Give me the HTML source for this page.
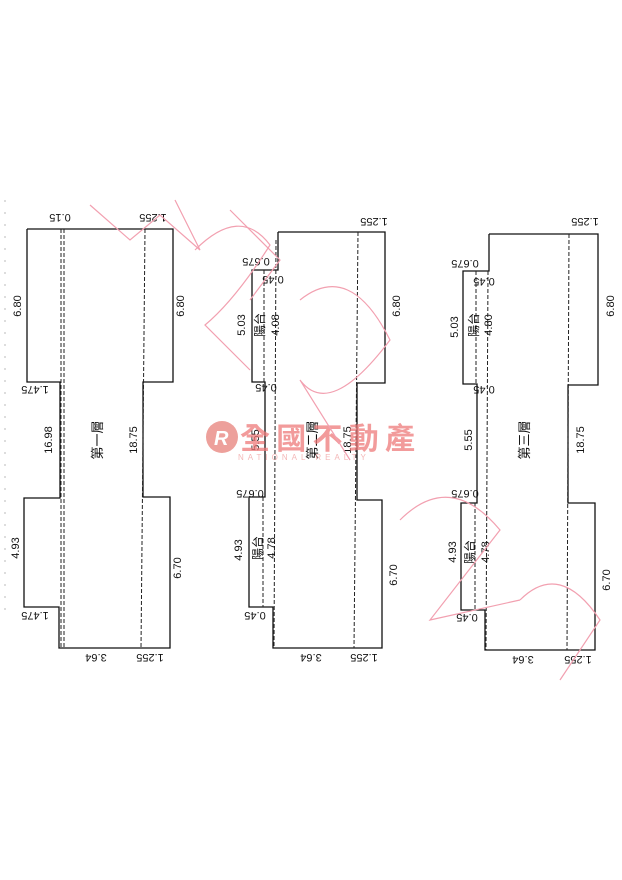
<!DOCTYPE html>
<html><head><meta charset="utf-8"><style>
html,body{margin:0;padding:0;background:#fff;width:622px;height:880px;overflow:hidden}
svg{display:block}
text{font-family:"Liberation Sans","Noto Sans CJK TC",sans-serif;fill:#111}
</style></head><body>
<svg width="622" height="880" viewBox="0 0 622 880" xmlns="http://www.w3.org/2000/svg">
<g fill="none" stroke="#111" stroke-width="1.3">
<!-- floor 1 -->
<polyline points="27,229 173,229 173,382 143,382 143,497 170,497 170,648 59,648 59,607 24,607 24,498 60,498 60,382 27,382 27,229"/>
<!-- floor 2 -->
<polyline points="278,232 385,232 385,383 357,383 357,500 382,500 382,648 273,648 273,607 249,607 249,497 265,497 265,382 252,382 252,270 278,270 278,232"/>
<!-- floor 3 -->
<polyline points="489,234 598,234 598,385 568,385 568,503 595,503 595,650 485,650 485,610 461,610 461,503 477,503 477,384 463,384 463,271 489,271 489,234"/>
</g>
<g fill="none" stroke="#222" stroke-width="1" stroke-dasharray="4,2">
<line x1="61" y1="229" x2="61" y2="648"/>
<line x1="64" y1="229" x2="64" y2="648"/>
<line x1="145" y1="229" x2="141" y2="648"/>
<line x1="358" y1="232" x2="354" y2="648"/>
<line x1="264" y1="270" x2="264" y2="383"/>
<line x1="276" y1="240" x2="274" y2="648"/>
<line x1="263" y1="497" x2="263" y2="607"/>
<line x1="569" y1="234" x2="567" y2="650"/>
<line x1="476" y1="271" x2="476" y2="384"/>
<line x1="488" y1="271" x2="486" y2="650"/>
<line x1="475" y1="503" x2="475" y2="610"/>
</g>
<line x1="5" y1="200" x2="5" y2="620" stroke="#bbb" stroke-width="1" stroke-dasharray="2,10"/>
<g font-size="11">
<!-- rotated -90 -->
<g text-anchor="middle">
<text transform="translate(21,306) rotate(-90)">6.80</text>
<text transform="translate(184,306) rotate(-90)">6.80</text>
<text transform="translate(52,440) rotate(-90)">16.98</text>
<text transform="translate(137,440) rotate(-90)">18.75</text>
<text transform="translate(19,548) rotate(-90)">4.93</text>
<text transform="translate(181,568) rotate(-90)">6.70</text>
<text transform="translate(102,440) rotate(-90)" font-size="13">第一層</text>

<text transform="translate(245,325) rotate(-90)">5.03</text>
<text transform="translate(279,325) rotate(-90)">4.08</text>
<text transform="translate(264,325) rotate(-90)" font-size="12">陽台</text>
<text transform="translate(400,306) rotate(-90)">6.80</text>
<text transform="translate(259,440) rotate(-90)">5.55</text>
<text transform="translate(351,440) rotate(-90)">18.75</text>
<text transform="translate(317,440) rotate(-90)" font-size="13">第二層</text>
<text transform="translate(242,550) rotate(-90)">4.93</text>
<text transform="translate(275,548) rotate(-90)">4.78</text>
<text transform="translate(262,548) rotate(-90)" font-size="12">陽台</text>
<text transform="translate(397,575) rotate(-90)">6.70</text>

<text transform="translate(458,327) rotate(-90)">5.03</text>
<text transform="translate(492,325) rotate(-90)">4.80</text>
<text transform="translate(478,325) rotate(-90)" font-size="12">陽台</text>
<text transform="translate(614,306) rotate(-90)">6.80</text>
<text transform="translate(472,440) rotate(-90)">5.55</text>
<text transform="translate(584,440) rotate(-90)">18.75</text>
<text transform="translate(529,440) rotate(-90)" font-size="13">第三層</text>
<text transform="translate(456,552) rotate(-90)">4.93</text>
<text transform="translate(489,552) rotate(-90)">4.78</text>
<text transform="translate(474,552) rotate(-90)" font-size="12">陽台</text>
<text transform="translate(610,580) rotate(-90)">6.70</text>

<!-- upside down -->
<text transform="translate(60,214) rotate(180)">0.15</text>
<text transform="translate(153,214) rotate(180)">1.255</text>
<text transform="translate(35,386) rotate(180)">1.475</text>
<text transform="translate(35,612) rotate(180)">1.475</text>
<text transform="translate(96,654) rotate(180)">3.64</text>
<text transform="translate(150,654) rotate(180)">1.255</text>

<text transform="translate(374,218) rotate(180)">1.255</text>
<text transform="translate(256,258) rotate(180)">0.675</text>
<text transform="translate(273,276) rotate(180)">0.45</text>
<text transform="translate(266,384) rotate(180)">0.45</text>
<text transform="translate(250,490) rotate(180)">0.675</text>
<text transform="translate(255,612) rotate(180)">0.45</text>
<text transform="translate(311,654) rotate(180)">3.64</text>
<text transform="translate(364,654) rotate(180)">1.255</text>

<text transform="translate(585,218) rotate(180)">1.255</text>
<text transform="translate(465,260) rotate(180)">0.675</text>
<text transform="translate(484,278) rotate(180)">0.45</text>
<text transform="translate(484,386) rotate(180)">0.45</text>
<text transform="translate(465,490) rotate(180)">0.675</text>
<text transform="translate(467,614) rotate(180)">0.45</text>
<text transform="translate(523,656) rotate(180)">3.64</text>
<text transform="translate(578,656) rotate(180)">1.255</text>
</g>
</g>
<!-- watermark -->
<g opacity="0.75">
<circle cx="222" cy="437" r="16" fill="#e8817a"/>
<text x="214" y="445" font-size="20" font-style="italic" font-weight="bold" style="fill:#fff">R</text>
<text x="240" y="449" font-size="30" font-weight="bold" style="fill:#ee7a7a" textLength="175">全國不動產</text>
<text x="238" y="460" font-size="8" letter-spacing="4" style="fill:#f0a0a0">NATIONAL REALTY</text>
</g>
<g fill="none" stroke="#f2a0b0" stroke-width="1.2">
<path d="M90,205 L130,240 L160,215 L200,250 L175,200"/>
<path d="M195,250 Q240,205 270,245 Q235,300 205,325 L250,370"/>
<path d="M300,300 Q350,260 390,340 Q330,420 300,380 L350,460"/>
<path d="M400,520 Q450,470 500,530 L430,620 L520,600"/>
<path d="M520,600 Q560,560 600,620 L560,680"/>
<path d="M230,210 L280,260 L250,300"/>
</g>
</svg>
</body></html>
